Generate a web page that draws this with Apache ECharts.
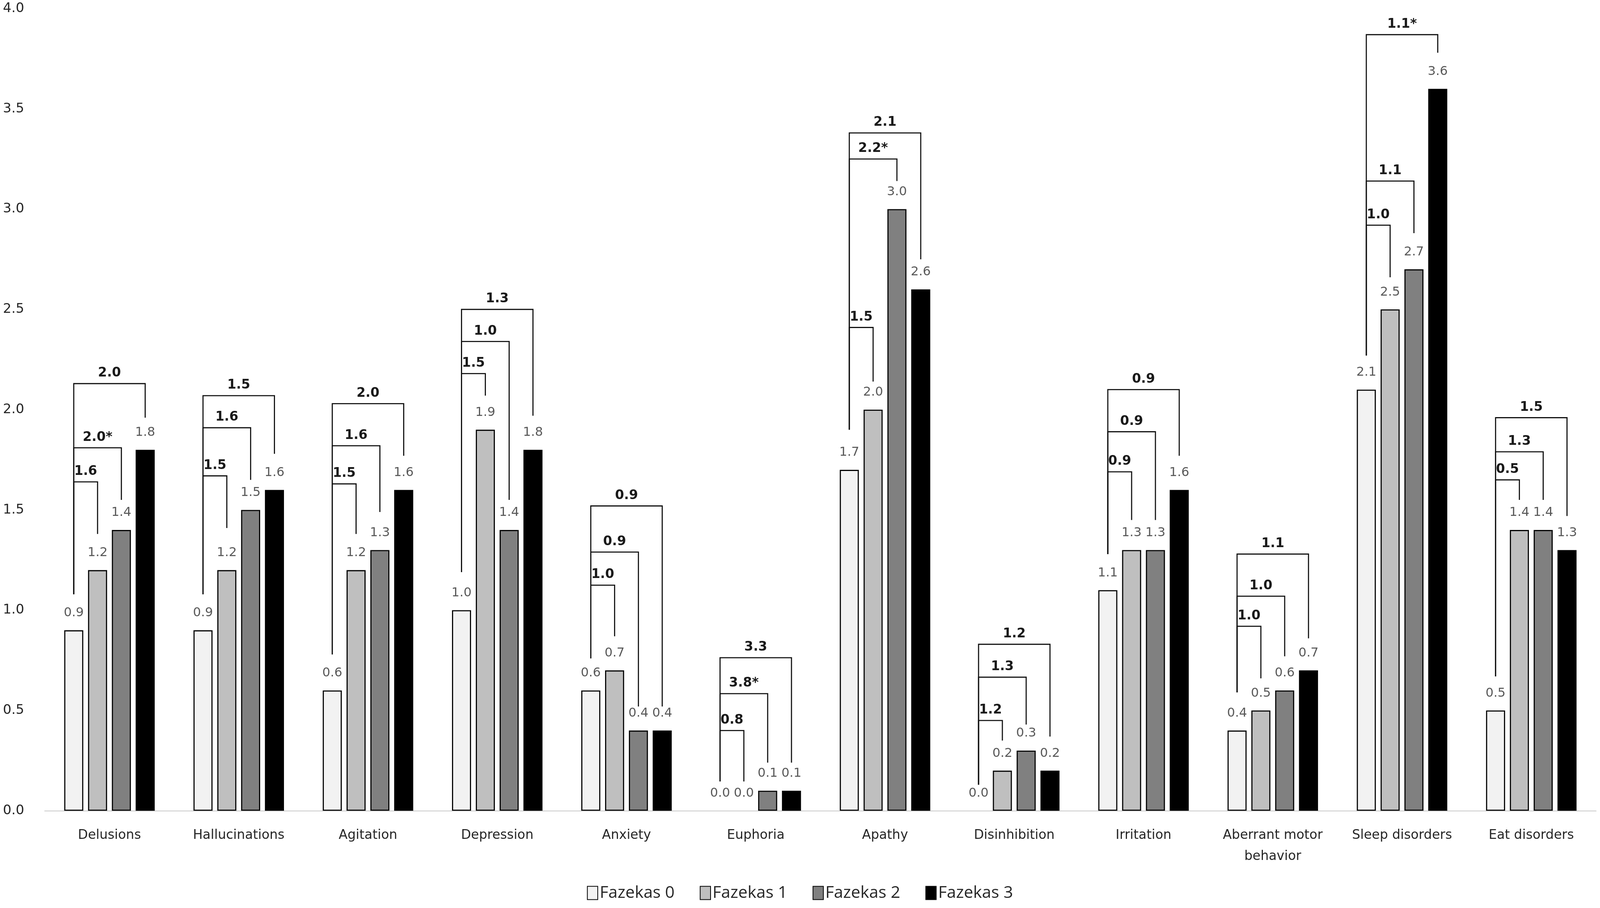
<!DOCTYPE html>
<html>
<head>
<meta charset="utf-8">
<script src="https://cdn.jsdelivr.net/npm/echarts@6/dist/echarts.min.js"></script>
<style>
  html, body { margin: 0; padding: 0; background: #fff; overflow: hidden; }
  #main { width: 100vw; height: 100vh; }
</style>
</head>
<body>
<div id="main"></div>
<script type="text/javascript">
// 类目
var categories = ['Delusions', 'Hallucinations', 'Agitation', 'Depression', 'Anxiety', 'Euphoria',
  'Apathy', 'Disinhibition', 'Irritation', 'Aberrant motor\nbehavior', 'Sleep disorders', 'Eat disorders'];

// 各组数值
var fazekas0 = [0.9, 0.9, 0.6, 1.0, 0.6, 0.0, 1.7, 0.0, 1.1, 0.4, 2.1, 0.5];
var fazekas1 = [1.2, 1.2, 1.2, 1.9, 0.7, 0.0, 2.0, 0.2, 1.3, 0.5, 2.5, 1.4];
var fazekas2 = [1.4, 1.5, 1.3, 1.4, 0.4, 0.1, 3.0, 0.3, 1.3, 0.6, 2.7, 1.4];
var fazekas3 = [1.8, 1.6, 1.6, 1.8, 0.4, 0.1, 2.6, 0.2, 1.6, 0.7, 3.6, 1.3];

var yTicks = [0, 0.5, 1.0, 1.5, 2.0, 2.5, 3.0, 3.5, 4.0];

// 括号标注: Fazekas 0 对比 Fazekas 1 / 2 / 3
var bracketLabels = [
  ['1.6', '2.0*', '2.0'], ['1.5', '1.6', '1.5'], ['1.5', '1.6', '2.0'], ['1.5', '1.0', '1.3'],
  ['1.0', '0.9', '0.9'], ['0.8', '3.8*', '3.3'], ['1.5', '2.2*', '2.1'], ['1.2', '1.3', '1.2'],
  ['0.9', '0.9', '0.9'], ['1.0', '1.0', '1.1'], ['1.0', '1.1', '1.1*'], ['0.5', '1.3', '1.5']
];
// 括号横线高度 (数据单位)
var bracketLevels = [
  [1.64, 1.81, 2.13], [1.67, 1.91, 2.07], [1.63, 1.82, 2.03], [2.18, 2.34, 2.50],
  [1.125, 1.29, 1.52], [0.40, 0.584, 0.763], [2.41, 3.25, 3.38], [0.45, 0.666, 0.83],
  [1.69, 1.89, 2.10], [0.92, 1.07, 1.28], [2.92, 3.14, 3.87], [1.65, 1.79, 1.96]
];
// 左竖线下端
var bracketLeftEnds = [1.08, 1.08, 0.78, 1.19, 0.76, 0.146, 1.90, 0.13, 1.28, 0.59, 2.27, 0.67];
// 右竖线下端
var bracketRightEnds = [
  [1.38, 1.55, 1.96], [1.41, 1.65, 1.78], [1.38, 1.49, 1.77], [2.07, 1.55, 1.97],
  [0.87, 0.52, 0.52], [0.146, 0.24, 0.24], [2.14, 3.14, 2.75], [0.35, 0.43, 0.37],
  [1.45, 1.45, 1.77], [0.66, 0.77, 0.86], [2.66, 2.88, 3.78], [1.55, 1.55, 1.47]
];

var seriesNames = ['Fazekas 0', 'Fazekas 1', 'Fazekas 2', 'Fazekas 3'];
var seriesData = [fazekas0, fazekas1, fazekas2, fazekas3];
var seriesColors = ['#f2f2f2', '#bfbfbf', '#808080', '#000000'];

var BAR_GAP = 0.25;
var CAT_GAP = 0.30;

var bracketData = [];
var bracketText = [];
for (var c = 0; c < categories.length; c++) {
  for (var k = 0; k < 3; k++) {
    bracketData.push([c, k + 1, bracketLevels[c][k], bracketLeftEnds[c], bracketRightEnds[c][k]]);
    bracketText.push(bracketLabels[c][k]);
  }
}

var dom = document.getElementById('main');
// 按参考图 4317x2325 缩放像素尺寸
var sx = dom.clientWidth / 4317;
var sy = dom.clientHeight / 2325;
function px(v) { return v * sx; }
function py(v) { return v * sy; }

var myChart = echarts.init(dom);

var series = [];
for (var i = 0; i < 4; i++) {
  series.push({
    name: seriesNames[i],
    type: 'bar',
    // 数值为 0 的柱子不画边框
    data: seriesData[i].map(function (v) {
      return v === 0 ? { value: v, itemStyle: { borderWidth: 0 } } : v;
    }),
    barGap: (BAR_GAP * 100) + '%',
    barCategoryGap: (CAT_GAP * 100) + '%',
    itemStyle: { color: seriesColors[i], borderColor: '#000', borderWidth: px(3) },
    label: {
      show: true,
      position: 'top',
      distance: py(28),
      color: '#595959',
      fontSize: px(34),
      fontFamily: 'DejaVu Sans',
      formatter: function (p) { return p.value.toFixed(1); }
    }
  });
}

series.push({
  name: 'brackets',
  type: 'custom',
  data: bracketData,
  encode: { x: 0, y: 2 },
  silent: true,
  z: 5,
  renderItem: function (params, api) {
    var cat = api.value(0);
    var k = api.value(1);
    var band = api.size([1, 0])[0];
    var barW = band * (1 - CAT_GAP) / (4 + 3 * BAR_GAP);
    var step = barW * (1 + BAR_GAP);
    var center = api.coord([cat, 0])[0];
    var x0 = center - 1.5 * step;
    var xk = x0 + k * step;
    var yTop = api.coord([cat, api.value(2)])[1];
    var yL = api.coord([cat, api.value(3)])[1];
    var yR = api.coord([cat, api.value(4)])[1];
    return {
      type: 'group',
      children: [
        {
          type: 'polyline',
          shape: { points: [[x0, yL], [x0, yTop], [xk, yTop], [xk, yR]] },
          style: { stroke: '#111', lineWidth: px(3), fill: null }
        },
        {
          type: 'text',
          style: {
            text: bracketText[params.dataIndex],
            x: (x0 + xk) / 2,
            y: yTop - py(10),
            align: 'center',
            verticalAlign: 'bottom',
            fontSize: px(35),
            fontWeight: 'bold',
            fontFamily: 'DejaVu Sans',
            fill: '#1a1a1a'
          }
        }
      ]
    };
  }
});

myChart.setOption({
  backgroundColor: '#ffffff',
  animation: false,
  grid: { left: px(121), right: px(11), top: py(22), bottom: py(249), containLabel: false },
  legend: {
    data: seriesNames,
    bottom: py(12),
    icon: 'rect',
    itemWidth: px(28),
    itemHeight: py(34),
    itemGap: px(68),
    textStyle: { fontSize: px(45), color: '#262626', fontFamily: 'Liberation Sans Narrow, Open Sans' }
  },
  xAxis: {
    type: 'category',
    data: categories,
    axisLine: { show: true, lineStyle: { color: '#d9d9d9', width: py(3) } },
    axisTick: { show: false },
    axisLabel: {
      interval: 0,
      margin: py(36),
      fontSize: px(35),
      lineHeight: py(54),
      color: '#262626',
      fontFamily: 'DejaVu Sans'
    }
  },
  yAxis: {
    type: 'value',
    min: yTicks[0],
    max: yTicks[yTicks.length - 1],
    interval: yTicks[1] - yTicks[0],
    splitLine: { show: false },
    axisLine: { show: false },
    axisTick: { show: false },
    axisLabel: {
      align: 'left',
      margin: px(113),
      fontSize: px(36),
      color: '#262626',
      fontFamily: 'DejaVu Sans',
      formatter: function (v) { return v.toFixed(1); }
    }
  },
  series: series
});
</script>
</body>
</html>
